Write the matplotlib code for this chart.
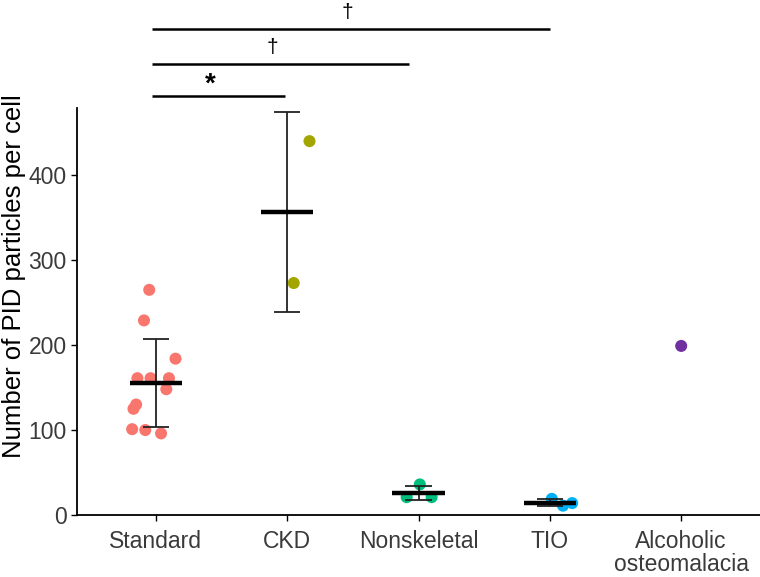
import numpy as np
import matplotlib
matplotlib.use('Agg')
from matplotlib import pyplot as plt

plt.rcParams['font.family'] = ['Liberation Sans', 'DejaVu Sans']

groups = ['Standard', 'CKD', 'Nonskeletal', 'TIO', 'Alcoholic\nosteomalacia']
colors = ['#F8766D', '#A3A500', '#00BF7D', '#00B0F6', '#7030A0']

standard = [265, 229, 184, 161, 161, 161, 148, 130, 125, 101, 100, 96]
ckd = [440, 273]
nonskeletal = [36, 21, 21]
tio = [19, 11, 14]
alcoholic = [199]
values = [standard, ckd, nonskeletal, tio, alcoholic]

# horizontal jitter of the points, in category units
jitter = [
    [-0.05, -0.09, 0.15, -0.14, -0.04, 0.10, 0.08, -0.15, -0.17, -0.18, -0.08, 0.04],
    [0.17, 0.05],
    [0.01, -0.09, 0.10],
    [0.015, 0.10, 0.17],
    [0.0],
]

# significance brackets: (from group, to group, label)
comparisons = [(1, 2, '*'), (1, 3, '\u2020'), (1, 4, '\u2020')]
bracket_y = [493, 531, 572]

fig = plt.figure(figsize=(7.6, 5.77), dpi=100)
ax = fig.add_axes([77/760, 62/577, 683/760, 407/577])

for i, (vals, jit, col) in enumerate(zip(values, jitter, colors)):
    x = i + 1 + np.array(jit)
    ax.scatter(x, vals, s=75, color=col, edgecolors='none', zorder=2)
    if len(vals) > 1:
        m = np.mean(vals)
        sd = np.std(vals, ddof=1)
        ax.vlines(i + 1, m - sd, m + sd, color='#222222', lw=1.3, zorder=3)
        ax.hlines([m - sd, m + sd], i + 1 - 0.1, i + 1 + 0.1, color='#222222', lw=1.3, zorder=3)
        ax.hlines(m, i + 1 - 0.2, i + 1 + 0.2, color='black', lw=3.2, zorder=4)

end_trim = [0.02, 0.07, 0.0]
label_shift = [-0.06, -0.06, -0.03]
for (a, b, lab), yb, trim, sh in zip(comparisons, bracket_y, end_trim, label_shift):
    x0, x1 = a - 0.03, b - trim
    ax.plot([x0, x1], [yb, yb], color='black', lw=1.8, clip_on=False, solid_capstyle='butt')
    if lab == '*':
        ax.text((x0 + x1) / 2 + sh, yb + 14, lab, ha='center', va='center', fontsize=20,
                fontweight='bold', clip_on=False)
    else:
        ax.text((x0 + x1) / 2 + sh, yb + 19, lab, ha='center', va='center', fontsize=15,
                clip_on=False)

ax.set_xlim(0.4, 5.6)
ax.set_ylim(0, 479)
ax.set_xticks(range(1, 6))
ax.set_xticklabels(groups, linespacing=1.0)
ax.set_yticks([0, 100, 200, 300, 400])
ax.tick_params(axis='both', labelsize=16.5, labelcolor='#3a3a3a', length=4, width=1, color='black')
ax.tick_params(axis='x', pad=7)
ax.set_ylabel('Number of PID particles per cell', fontsize=18.5)
ax.yaxis.set_label_coords(-0.074, 0.587)
for s in ['top', 'right']:
    ax.spines[s].set_visible(False)
for s in ['left', 'bottom']:
    ax.spines[s].set_linewidth(1.3)

fig.savefig('out.png', dpi=100)
